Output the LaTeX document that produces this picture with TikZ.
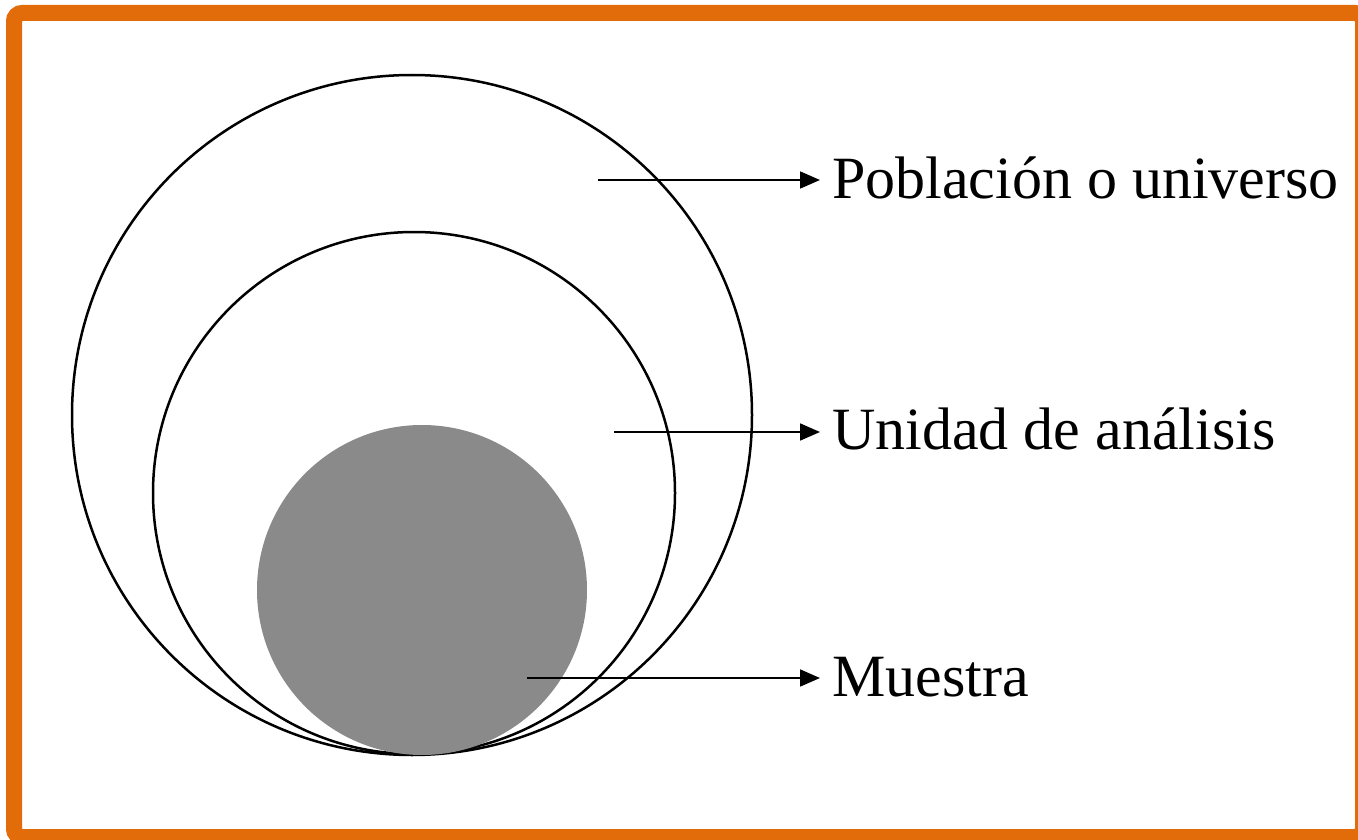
\documentclass[tikz,border=0pt]{standalone}
\usepackage{fontspec}
\setmainfont{Liberation Serif}
\usetikzlibrary{arrows.meta}
\definecolor{frameorange}{HTML}{E36C0A}
\definecolor{samplegray}{HTML}{8A8A8A}
\tikzset{
  ring/.style={circle, draw=black, line width=2.5pt, inner sep=0pt},
  pointer/.style={draw=black, line width=1.8pt, -{Triangle[length=20pt,width=17pt]}},
  label/.style={anchor=base west, inner sep=0pt, font=\fontsize{60}{72}\selectfont}
}
\begin{document}
\begin{tikzpicture}[x=1pt,y=-1pt]
\useasboundingbox (0,0) rectangle (1358,840);
\begin{scope}
\clip (0,0) rectangle (1358,840);
\draw[frameorange, line width=16pt, rounded corners=8pt] (14,13) rectangle (1363,837);
\end{scope}
\node[ring, minimum size=680pt] (pop) at (412,415) {};
\node[ring, minimum size=522pt] (uni) at (414,493) {};
\node[circle, fill=samplegray, inner sep=0pt, minimum size=330pt] (mue) at (422,590) {};
\node[label] (tpop) at (832,199) {Población o universo};
\node[label] (tuni) at (832,449) {Unidad de análisis};
\node[label] (tmue) at (832,696) {Muestra};
\coordinate (spop) at (598,180);
\coordinate (suni) at (614,432);
\coordinate (smue) at (527,678);
\draw[pointer] (spop) -- ([xshift=-12pt]spop -| tpop.west);
\draw[pointer] (suni) -- ([xshift=-12pt]suni -| tuni.west);
\draw[pointer] (smue) -- ([xshift=-12pt]smue -| tmue.west);
\end{tikzpicture}
\end{document}
